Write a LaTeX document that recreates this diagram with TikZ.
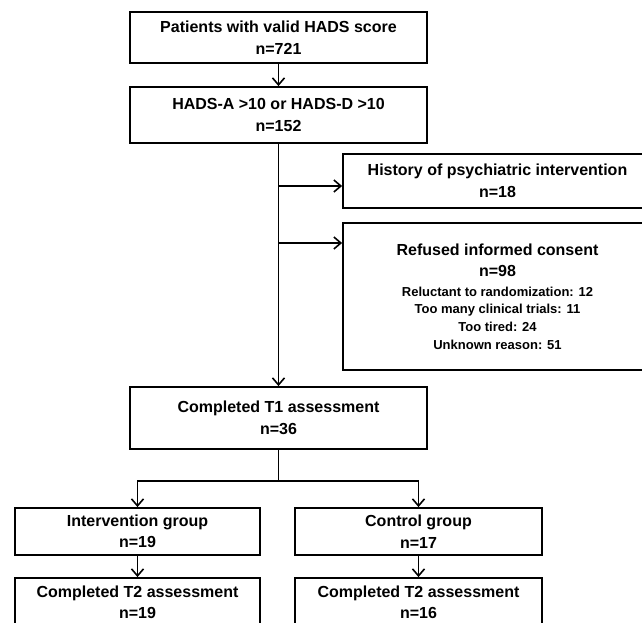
\documentclass[tikz,border=0pt]{standalone}
\usepackage{fontspec}
\setmainfont{Liberation Sans}
\usetikzlibrary{arrows.meta}
\begin{document}
\begin{tikzpicture}[x=1pt, y=-1pt, line width=1.8pt,
	box/.style={draw, rectangle, align=center, inner sep=0pt, font=\bfseries\fontsize{16}{21.5}\selectfont},
	arr/.style={-{Straight Barb[length=7pt,width=12pt]}, line width=1.6pt}]
	\useasboundingbox (0,0) rectangle (642,623);
	\clip (0,0) rectangle (642,623);

	\node[box, minimum width=297pt, minimum height=51pt] (valid) at (278.5,37.5) {Patients with valid HADS score\\n=721};
	\node[box, minimum width=297pt, minimum height=56pt] (hads) at (278.5,115) {HADS-A >10 or HADS-D >10\\n=152};
	\node[box, minimum width=309pt, minimum height=54pt] (hist) at (497.5,181) {History of psychiatric intervention\\n=18};
	\node[box, minimum width=309pt, minimum height=147pt] (refused) at (497.5,296.5) {Refused informed consent\\n=98\\[-2pt]
		{\fontsize{13}{17.7}\selectfont Reluctant to randomization: 12}\\[-3.8pt]
		{\fontsize{13}{17.7}\selectfont Too many clinical trials: 11}\\[-3.8pt]
		{\fontsize{13}{17.7}\selectfont Too tired: 24}\\[-3.8pt]
		{\fontsize{13}{17.7}\selectfont Unknown reason: 51}};
	\node[box, minimum width=297pt, minimum height=62pt] (t1) at (278.5,418) {Completed T1 assessment\\n=36};
	\node[box, minimum width=245pt, minimum height=47pt] (int) at (137.5,531.5) {Intervention group\\n=19};
	\node[box, minimum width=247pt, minimum height=47pt] (ctl) at (418.5,531.5) {Control group\\n=17};
	\node[box, minimum width=245pt, minimum height=49pt] (t2int) at (137.5,602.5) {Completed T2 assessment\\n=19};
	\node[box, minimum width=247pt, minimum height=49pt] (t2ctl) at (418.5,602.5) {Completed T2 assessment\\n=16};

	\coordinate (tohist) at (278.5,186);
	\coordinate (toref) at (278.5,243);
	\coordinate (split) at (278.5,481);

	\draw[arr] (valid) -- (hads);
	\draw[arr] (hads) -- (t1);
	\draw[arr] (tohist) -- (tohist -| hist.west);
	\draw[arr] (toref) -- (toref -| refused.west);
	\draw[line width=1.6pt] (t1) -- (split);
	\draw[arr] (split) -| (int.north);
	\draw[arr] (split) -| (ctl.north);
	\draw[arr] (int) -- (t2int);
	\draw[arr] (ctl) -- (t2ctl);
\end{tikzpicture}
\end{document}
